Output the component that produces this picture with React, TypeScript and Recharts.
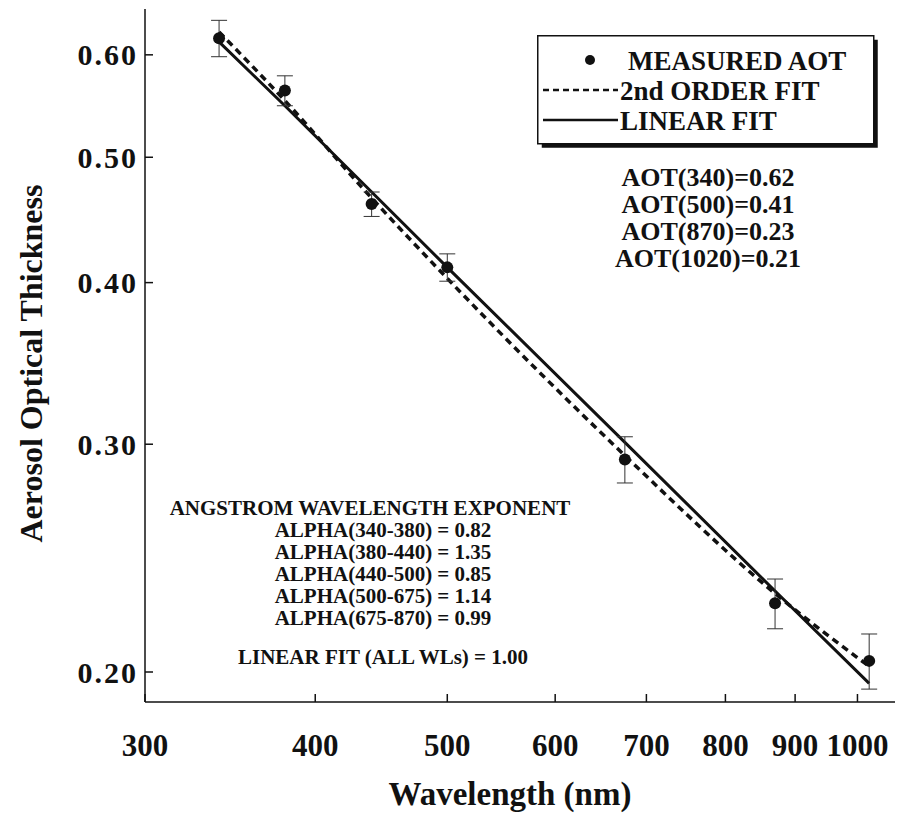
import React from 'react';
import {
  ComposedChart,
  Line,
  Scatter,
  ErrorBar,
  XAxis,
  YAxis,
  Legend,
  Customized,
} from 'recharts';

// values (log-log axes)
const wavelengths = [340, 380, 440, 500, 675, 870, 1020];
const measuredAot = [0.618, 0.563, 0.46, 0.411, 0.292, 0.226, 0.204];
const aotError = [0.02, 0.015, 0.01, 0.01, 0.012, 0.01, 0.01];
const secondOrderFit = [0.625, 0.553, 0.465, 0.403, 0.294, 0.23, 0.202];
const linearFit = [0.614, 0.548, 0.47, 0.411, 0.301, 0.231, 0.196];

const xTicks = [300, 400, 500, 600, 700, 800, 900, 1000];
const yTicks = [0.2, 0.3, 0.4, 0.5, 0.6];

const legendLabels = ['MEASURED AOT', '2nd ORDER FIT', 'LINEAR FIT'];
const aotLines = ['AOT(340)=0.62', 'AOT(500)=0.41', 'AOT(870)=0.23', 'AOT(1020)=0.21'];
const alphaTitle = 'ANGSTROM WAVELENGTH EXPONENT';
const alphaLines = [
  'ALPHA(340-380) = 0.82',
  'ALPHA(380-440) = 1.35',
  'ALPHA(440-500) = 0.85',
  'ALPHA(500-675) = 1.14',
  'ALPHA(675-870) = 0.99',
];
const linearFitText = 'LINEAR FIT (ALL WLs) = 1.00';

const rows = wavelengths.map((wl, i) => ({
  wl,
  aot: measuredAot[i],
  err: aotError[i],
  quad: secondOrderFit[i],
  lin: linearFit[i],
}));

const FONT = '"Liberation Serif", "Times New Roman", serif';
const INK = '#111';

const Dot = (props: any) => {
  const { cx, cy } = props;
  if (cx == null || cy == null) return null;
  return <circle cx={cx} cy={cy} r={6} fill={INK} />;
};

const LegendBox = () => (
  <svg width={344} height={116} style={{ display: 'block', fontFamily: FONT }}>
    <rect x={4.75} y={4.75} width={336} height={108} fill={INK} />
    <rect x={0.75} y={0.75} width={336} height={108} fill="#fff" stroke={INK} strokeWidth={1.5} />
    <circle cx={53} cy={25} r={5} fill={INK} />
    <text x={91} y={35} fontSize={27} fontWeight={700} fill={INK}>{legendLabels[0]}</text>
    <line x1={6} x2={81} y1={55} y2={55} stroke={INK} strokeWidth={2.5} strokeDasharray="6 4" />
    <text x={83} y={65} fontSize={27} fontWeight={700} fill={INK}>{legendLabels[1]}</text>
    <line x1={6} x2={81} y1={85} y2={85} stroke={INK} strokeWidth={2.5} />
    <text x={83} y={95} fontSize={27} fontWeight={700} fill={INK}>{legendLabels[2]}</text>
  </svg>
);

const Annotations = () => (
  <g fontFamily={FONT} fontWeight={700} fill={INK}>
    {aotLines.map((t, i) => (
      <text key={t} x={700} y={178 + i * 27} fontSize={26} textAnchor="middle">{t}</text>
    ))}
    <text x={362} y={507} fontSize={21} textAnchor="middle">{alphaTitle}</text>
    {alphaLines.map((t, i) => (
      <text key={t} x={375} y={529 + i * 22} fontSize={21} textAnchor="middle">{t}</text>
    ))}
    <text x={375} y={656} fontSize={21} textAnchor="middle">{linearFitText}</text>
  </g>
);

const tickStyle = { fill: INK, fontSize: 31, fontWeight: 700, fontFamily: FONT };

export default function App() {
  return (
    <ComposedChart
      width={895}
      height={807}
      data={rows}
      margin={{ top: 1, right: 0, bottom: 0, left: 0 }}
    >
      <XAxis
        dataKey="wl"
        type="number"
        scale="log"
        domain={[300, 1080]}
        allowDataOverflow
        ticks={xTicks}
        interval={0}
        height={113}
        tickSize={-8}
        tickMargin={40}
        tick={tickStyle}
        stroke={INK}
        strokeWidth={1.5}
        label={{
          content: ({ viewBox }: any) => (
            <text
              x={viewBox.x + viewBox.width / 2 - 14}
              y={viewBox.y + viewBox.height - 10}
              textAnchor="middle"
              fontFamily={FONT}
              fontWeight={700}
              fontSize={33}
              fill={INK}
            >
              Wavelength (nm)
            </text>
          ),
        }}
      />
      <XAxis
        xAxisId="top"
        dataKey="wl"
        type="number"
        scale="log"
        domain={[300, 1080]}
        allowDataOverflow
        ticks={xTicks}
        interval={0}
        orientation="top"
        height={0}
        tickSize={-8}
        tick={false}
        stroke={INK}
        strokeWidth={1.5}
      />
      <YAxis
        type="number"
        scale="log"
        domain={[0.1896, 0.651]}
        allowDataOverflow
        ticks={yTicks}
        interval={0}
        width={137}
        tickSize={-8}
        tickMargin={15}
        tickFormatter={(v: number) => v.toFixed(2)}
        tick={{ ...tickStyle, fontSize: 30, letterSpacing: 2 }}
        stroke={INK}
        strokeWidth={1.5}
        label={{
          content: ({ viewBox }: any) => {
            const x = viewBox.x + 34;
            const y = viewBox.y + viewBox.height / 2 + 8;
            return (
              <text
                x={x}
                y={y}
                transform={`rotate(-90, ${x}, ${y})`}
                textAnchor="middle"
                fontFamily={FONT}
                fontWeight={700}
                fontSize={32}
                fill={INK}
              >
                Aerosol Optical Thickness
              </text>
            );
          },
        }}
      />
      <Line
        dataKey="quad"
        name={legendLabels[1]}
        type="monotone"
        stroke={INK}
        strokeWidth={3.5}
        strokeDasharray="7 5"
        dot={false}
        isAnimationActive={false}
      />
      <Line
        dataKey="lin"
        name={legendLabels[2]}
        type="linear"
        stroke={INK}
        strokeWidth={3}
        dot={false}
        isAnimationActive={false}
      />
      <Scatter dataKey="aot" name={legendLabels[0]} shape={Dot} isAnimationActive={false}>
        <ErrorBar dataKey="err" direction="y" width={8} stroke="#333" strokeWidth={1} />
      </Scatter>
      <Legend
        layout="vertical"
        align="center"
        verticalAlign="middle"
        content={() => <LegendBox />}
        wrapperStyle={{ position: 'absolute', left: 529, top: 27, width: 344, height: 116 }}
      />
      <Customized component={Annotations} />
    </ComposedChart>
  );
}
